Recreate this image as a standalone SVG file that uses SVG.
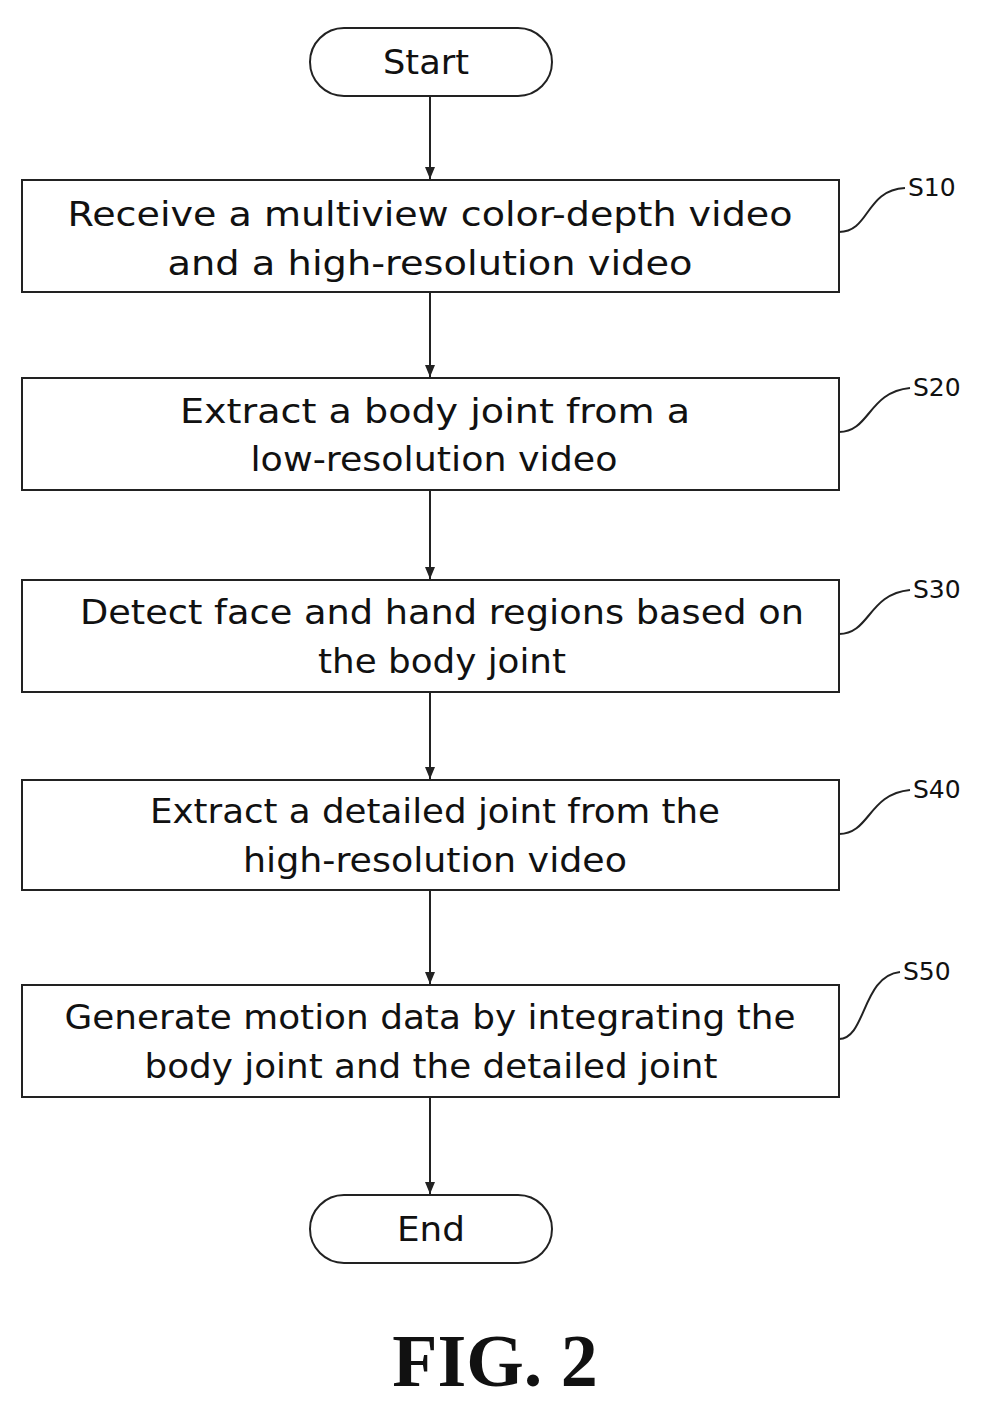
<svg xmlns="http://www.w3.org/2000/svg" width="996" height="1409" viewBox="0 0 996 1409">
<style>
.b{fill:#fff;stroke:#222;stroke-width:2}
.t{font-family:"DejaVu Sans","Liberation Sans",sans-serif;font-size:34px;fill:#111;text-anchor:middle}
.s{font-family:"DejaVu Sans","Liberation Sans",sans-serif;font-size:25px;fill:#111}
.c{fill:none;stroke:#222;stroke-width:2}
</style>
<defs><marker id="a" markerWidth="12" markerHeight="10" refX="12" refY="5" orient="auto" markerUnits="userSpaceOnUse" viewBox="0 0 12 10"><path d="M0,0 L12,5 L0,10 Z" fill="#222"/></marker></defs>
<rect width="996" height="1409" fill="#fff"/>
<g id="connectors">
<line class="c" x1="430" y1="96" x2="430" y2="179" marker-end="url(#a)"/>
<line class="c" x1="430" y1="292" x2="430" y2="377" marker-end="url(#a)"/>
<line class="c" x1="430" y1="490" x2="430" y2="579" marker-end="url(#a)"/>
<line class="c" x1="430" y1="692" x2="430" y2="779" marker-end="url(#a)"/>
<line class="c" x1="430" y1="890" x2="430" y2="984" marker-end="url(#a)"/>
<line class="c" x1="430" y1="1097" x2="430" y2="1194" marker-end="url(#a)"/>
</g>
<g id="start"><rect class="b" x="310" y="28" width="242" height="68" rx="34"/><text class="t" x="426" y="74" textLength="86" lengthAdjust="spacingAndGlyphs">Start</text></g>
<g id="s10"><rect class="b" x="22" y="180" width="817" height="112"/><text class="t" x="430" y="226" textLength="725" lengthAdjust="spacingAndGlyphs">Receive a multiview color-depth video</text><text class="t" x="430" y="275" textLength="525" lengthAdjust="spacingAndGlyphs">and a high-resolution video</text>
<path class="c" d="M839,232 C870,232 865,190 905,188"/><text class="s" x="908" y="196">S10</text></g>
<g id="s20"><rect class="b" x="22" y="378" width="817" height="112"/><text class="t" x="435" y="423" textLength="510" lengthAdjust="spacingAndGlyphs">Extract a body joint from a</text><text class="t" x="434" y="471" textLength="367" lengthAdjust="spacingAndGlyphs">low-resolution video</text>
<path class="c" d="M839,432 C870,432 868,392 910,388"/><text class="s" x="913" y="396">S20</text></g>
<g id="s30"><rect class="b" x="22" y="580" width="817" height="112"/><text class="t" x="442" y="624" textLength="724" lengthAdjust="spacingAndGlyphs">Detect face and hand regions based on</text><text class="t" x="442" y="673" textLength="248" lengthAdjust="spacingAndGlyphs">the body joint</text>
<path class="c" d="M839,634 C870,634 868,594 910,590"/><text class="s" x="913" y="598">S30</text></g>
<g id="s40"><rect class="b" x="22" y="780" width="817" height="110"/><text class="t" x="435" y="823" textLength="570" lengthAdjust="spacingAndGlyphs">Extract a detailed joint from the</text><text class="t" x="435" y="872" textLength="384" lengthAdjust="spacingAndGlyphs">high-resolution video</text>
<path class="c" d="M839,834 C870,834 868,794 910,790"/><text class="s" x="913" y="798">S40</text></g>
<g id="s50"><rect class="b" x="22" y="985" width="817" height="112"/><text class="t" x="430" y="1029" textLength="731" lengthAdjust="spacingAndGlyphs">Generate motion data by integrating the</text><text class="t" x="431" y="1078" textLength="573" lengthAdjust="spacingAndGlyphs">body joint and the detailed joint</text>
<path class="c" d="M839,1039 C866,1039 862,976 900,972"/><text class="s" x="903" y="980">S50</text></g>
<g id="end"><rect class="b" x="310" y="1195" width="242" height="68" rx="34"/><text class="t" x="431" y="1241" textLength="68" lengthAdjust="spacingAndGlyphs">End</text></g>
<text x="495" y="1386" font-family="Liberation Serif,serif" font-weight="bold" font-size="74" text-anchor="middle" fill="#111">FIG. 2</text>
</svg>
